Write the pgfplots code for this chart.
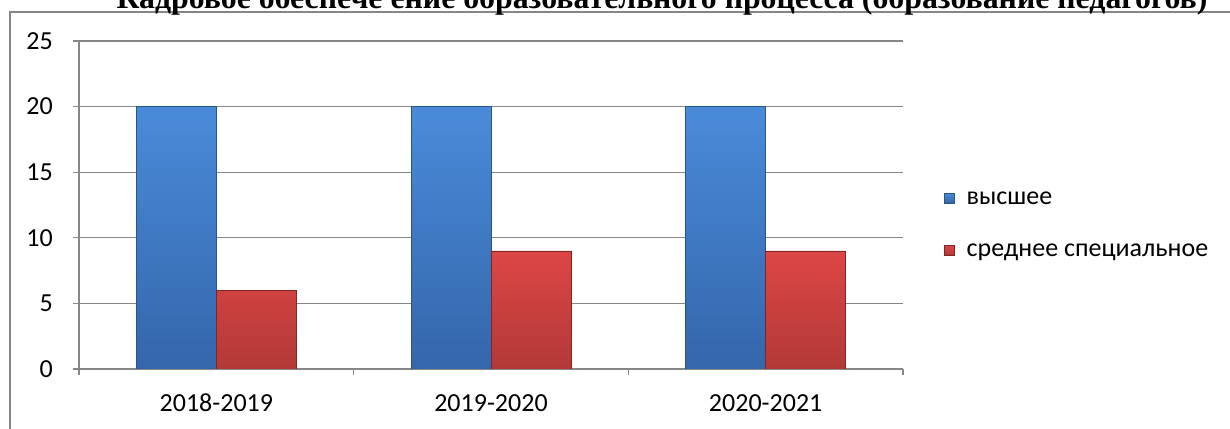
\documentclass[border=0pt]{standalone}
\usepackage{fontspec}
\setmainfont{Carlito}
\newfontfamily\titlefont{Liberation Serif}
\usepackage{pgfplots}
\pgfplotsset{compat=1.18}

\definecolor{gridgray}{HTML}{868686}
\definecolor{bluetop}{HTML}{4A8BD9}
\definecolor{bluebot}{HTML}{3466AB}
\definecolor{blueedge}{HTML}{2B5489}
\definecolor{redtop}{HTML}{DD4646}
\definecolor{redbot}{HTML}{B23937}
\definecolor{rededge}{HTML}{7F2624}

\begin{document}
\begin{tikzpicture}
\useasboundingbox (0pt,0pt) rectangle (1230pt,428pt);
\draw[gridgray, line width=1.5pt] (10pt,-20pt) -- (10pt,416pt) -- (1250pt,416pt);
\begin{axis}[
  at={(79pt,59pt)}, anchor=south west,
  scale only axis, width=824pt, height=328pt,
  ybar=0pt, bar width=80pt,
  xmin=-0.5, xmax=2.5, ymin=0, ymax=25,
  axis x line*=bottom, axis y line*=left,
  axis line style={gridgray, line width=1.3pt, -},
  xtick={0,1,2}, xticklabels={2018-2019,2019-2020,2020-2021},
  major x tick style={draw=none},
  minor xtick={-0.5,0.5,1.5,2.5},
  ytick={0,5,...,25},
  tick align=outside, major tick length=6pt, minor tick length=6pt,
  tick style={gridgray, line width=1.3pt},
  minor tick style={gridgray, line width=1.3pt},
  ymajorgrids, major grid style={gridgray, line width=1.3pt},
  ticklabel style={font=\fontsize{26}{31}\selectfont, inner sep=0pt},
  xticklabel style={anchor=north, text height=17pt, text depth=0pt, yshift=-19pt},
  yticklabel style={xshift=-20pt},
  /pgf/number format/assume math mode=true,
  legend style={at={(1.0498,0.442)}, anchor=west, draw=none, fill=none,
    inner sep=0pt, row sep=28pt,
    font=\fontsize{26}{31}\selectfont,
    nodes={inner sep=0pt, text height=18pt, text depth=6pt},
    /tikz/every odd column/.append style={column sep=12pt}},
  legend cell align=left,
  legend image code/.code={\path[#1] (0pt,-5pt) rectangle (10pt,5pt);},
]
\addplot[draw=blueedge, top color=bluetop, bottom color=bluebot]
  coordinates {(0,20) (1,20) (2,20)};
\addplot[draw=rededge, top color=redtop, bottom color=redbot]
  coordinates {(0,6) (1,9) (2,9)};
\legend{высшее, среднее специальное}
\end{axis}
\node[anchor=base, font=\titlefont\bfseries\fontsize{31.8}{38}\selectfont]
  at (662pt,419pt) {Кадровое обеспече ение образовательного процесса (образование педагогов)};
\end{tikzpicture}
\end{document}
